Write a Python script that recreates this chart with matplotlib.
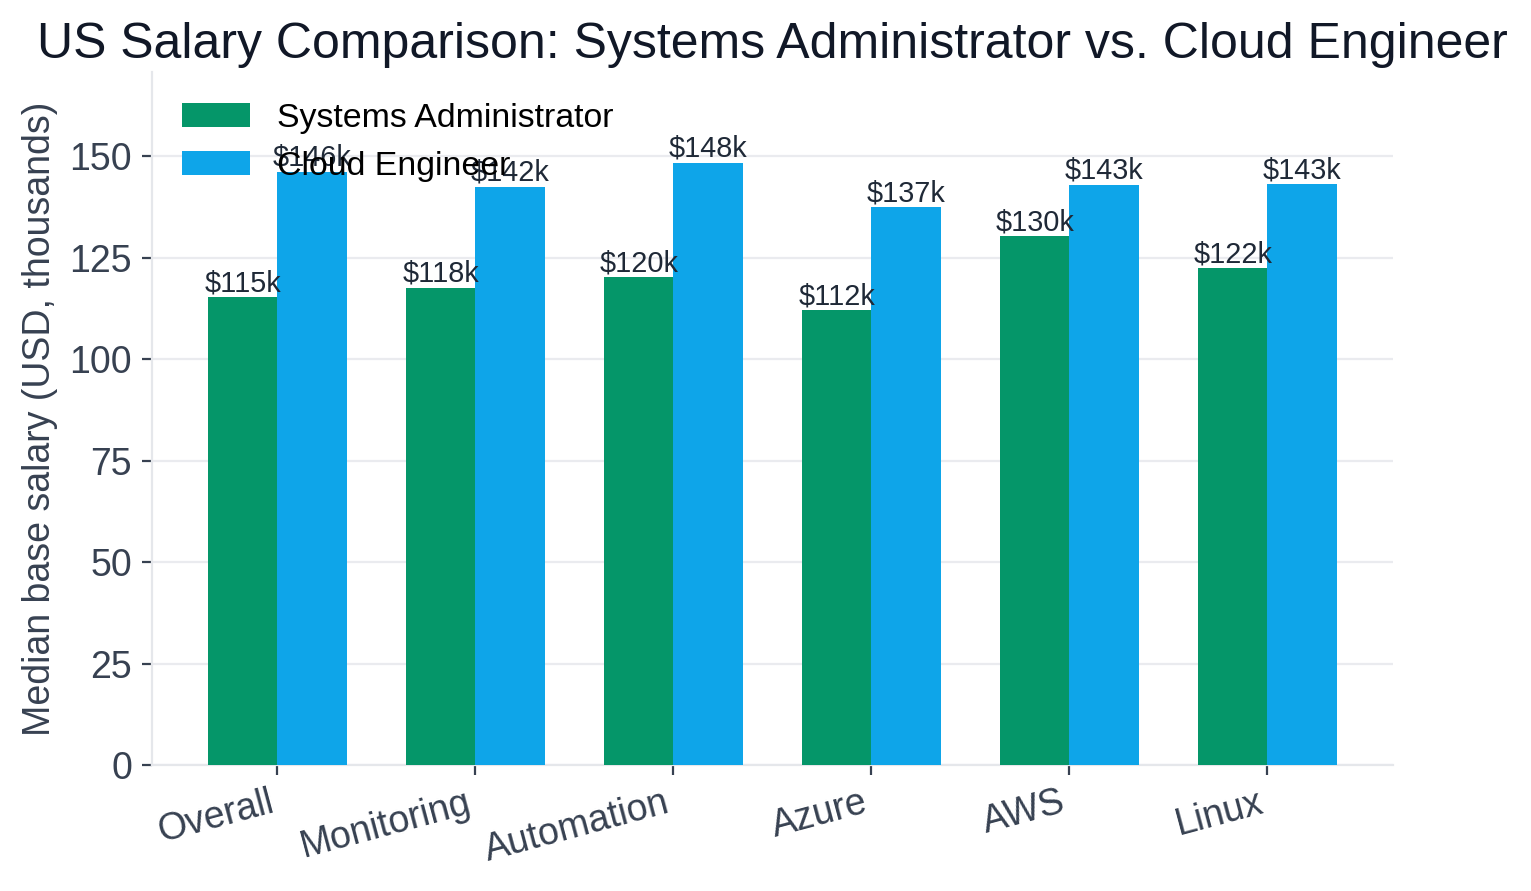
import matplotlib.pyplot as plt
import numpy as np

# Data
categories = ["Overall", "Monitoring", "Automation", "Azure", "AWS", "Linux"]
sysadmin = [115.2, 117.6, 120.2, 112.0, 130.3, 122.4]
cloud_eng = [146.1, 142.4, 148.4, 137.4, 142.9, 143.1]
series_names = ["Systems Administrator", "Cloud Engineer"]

green = "#059669"
blue = "#0EA5E9"
text_dark = "#374151"

plt.rcParams["font.family"] = ["Liberation Sans", "DejaVu Sans"]

fig = plt.figure(figsize=(7.655, 4.455), dpi=200)
ax = fig.add_axes([0.099, 0.1414, 0.811, 0.7776])

x = np.arange(len(categories))
w = 0.35
b1 = ax.bar(x - w / 2, sysadmin, w, color=green, label=series_names[0], zorder=3)
b2 = ax.bar(x + w / 2, cloud_eng, w, color=blue, label=series_names[1], zorder=3)

for bars in (b1, b2):
    ax.bar_label(bars, labels=["$%.0fk" % b.get_height() for b in bars],
                 padding=0, fontsize=10.4, color="#1f2937")

ax.set_ylim(0, max(cloud_eng) * 1.15)
ax.set_xticks(x)
ax.set_xticklabels(categories, rotation=15, ha="right", fontsize=13.5, color=text_dark)
ax.set_yticks([0, 25, 50, 75, 100, 125, 150])
ax.tick_params(axis="y", labelsize=13.5, labelcolor=text_dark, color=text_dark)
ax.tick_params(axis="x", color=text_dark)
ax.set_ylabel("Median base salary (USD, thousands)", fontsize=13.5, color=text_dark)
ax.set_title("US Salary Comparison: Systems Administrator vs. Cloud Engineer",
             fontsize=18, color="#111827", pad=5)

ax.grid(axis="y", color="#E5E7EB", linewidth=0.8, alpha=0.8, zorder=0)
ax.set_axisbelow(True)
for s in ["top", "right"]:
    ax.spines[s].set_visible(False)
for s in ["left", "bottom"]:
    ax.spines[s].set_color("#E5E7EB")

ax.legend(loc="upper left", frameon=False, fontsize=12.2)

plt.savefig("out.png", dpi=200)
